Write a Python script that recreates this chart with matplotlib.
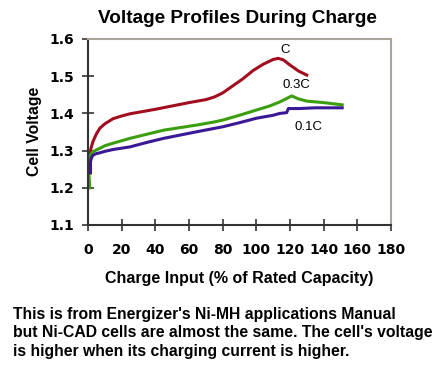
import matplotlib
matplotlib.use("Agg")
import matplotlib.pyplot as plt

# Data
x_c = [0, 0.5, 1, 2, 3, 5, 7, 10, 15, 20, 25, 30, 40, 50, 60, 70, 75, 80, 86, 92, 98, 104, 110, 113, 116, 120, 125, 130]
v_c = [1.20, 1.25, 1.29, 1.31, 1.325, 1.345, 1.36, 1.372, 1.386, 1.393, 1.399, 1.403, 1.411, 1.42, 1.429, 1.437, 1.444, 1.455, 1.474, 1.493, 1.515, 1.532, 1.545, 1.548, 1.544, 1.53, 1.514, 1.503]

x_03 = [1, 0.5, 0.5, 1, 2, 3, 5, 7, 10, 15, 25, 35, 45, 55, 65, 75, 80, 90, 100, 108, 114, 118, 121, 125, 130, 140, 151]
v_03 = [1.20, 1.24, 1.275, 1.285, 1.292, 1.297, 1.302, 1.306, 1.313, 1.32, 1.333, 1.344, 1.355, 1.362, 1.369, 1.377, 1.382, 1.395, 1.409, 1.42, 1.431, 1.44, 1.447, 1.439, 1.433, 1.429, 1.423]

x_01 = [1.5, 1.5, 2, 3, 5, 7, 10, 15, 25, 35, 45, 55, 65, 80, 90, 100, 110, 114, 118, 119, 125, 135, 151]
v_01 = [1.24, 1.27, 1.28, 1.288, 1.292, 1.294, 1.298, 1.303, 1.31, 1.322, 1.333, 1.342, 1.351, 1.364, 1.375, 1.387, 1.395, 1.40, 1.402, 1.413, 1.413, 1.415, 1.415]

x_ticks = [0, 20, 40, 60, 80, 100, 120, 140, 160, 180]
y_ticks = [1.1, 1.2, 1.3, 1.4, 1.5, 1.6]

title = "Voltage Profiles During Charge"
xlabel = "Charge Input (% of Rated Capacity)"
ylabel = "Cell Voltage"
caption = ["This is from Energizer's Ni-MH applications Manual",
           "but Ni-CAD cells are almost the same. The cell's voltage",
           "is higher when its charging current is higher."]

plt.rcParams['font.family'] = ['Liberation Sans', 'DejaVu Sans']

fig = plt.figure(figsize=(4.38, 3.70), dpi=100)
ax = fig.add_axes([88/438, 1 - 225/370, (391-88)/438, (225-39)/370])

ax.plot(x_c, v_c, color='#a30d20', lw=2.2, solid_joinstyle='round')
ax.plot(x_03, v_03, color='#3b9e0e', lw=2.2, solid_joinstyle='round')
ax.plot(x_01, v_01, color='#3a1896', lw=2.2, solid_joinstyle='round')

ax.text(117, 1.57, "C", fontsize=9.5, ha='center', va='center')
ax.text(124, 1.476, "0.3C", fontsize=9.5, ha='center', va='center')
ax.text(131, 1.363, "0.1C", fontsize=9.5, ha='center', va='center')

ax.set_xlim(0, 180)
ax.set_ylim(1.1, 1.6)
ax.set_xticks(x_ticks)
ax.set_yticks(y_ticks)
ax.set_xticklabels([str(t) for t in x_ticks], fontweight='bold', fontsize=10, family='DejaVu Sans')
ax.set_yticklabels([f"{t:.1f}" for t in y_ticks], fontweight='bold', fontsize=10, family='DejaVu Sans')
ax.tick_params(direction='inout', length=8, width=1.2, color='#333333', pad=6)
ax.tick_params(axis='x', pad=9)

for s in ['left', 'bottom']:
    ax.spines[s].set_color('#333333')
    ax.spines[s].set_linewidth(1.5)
for s in ['top', 'right']:
    ax.spines[s].set_color('#aaa59a')
    ax.spines[s].set_linewidth(1.5)

fig.text(237.5/438, 1 - 23/370, title, ha='center', va='baseline', fontsize=13.7, fontweight='bold')
fig.text(239/438, 1 - 283.5/370, xlabel, ha='center', va='baseline', fontsize=11.5, fontweight='bold')
fig.text(35/438, 1 - 131.5/370, ylabel, ha='center', va='center', fontsize=11.3, fontweight='bold', rotation=90)
for i, line in enumerate(caption):
    fig.text(13/438, 1 - (318.5 + 18.8*i)/370, line, ha='left', va='baseline', fontsize=11.3, fontweight='bold')

fig.savefig("out.png", dpi=100)
